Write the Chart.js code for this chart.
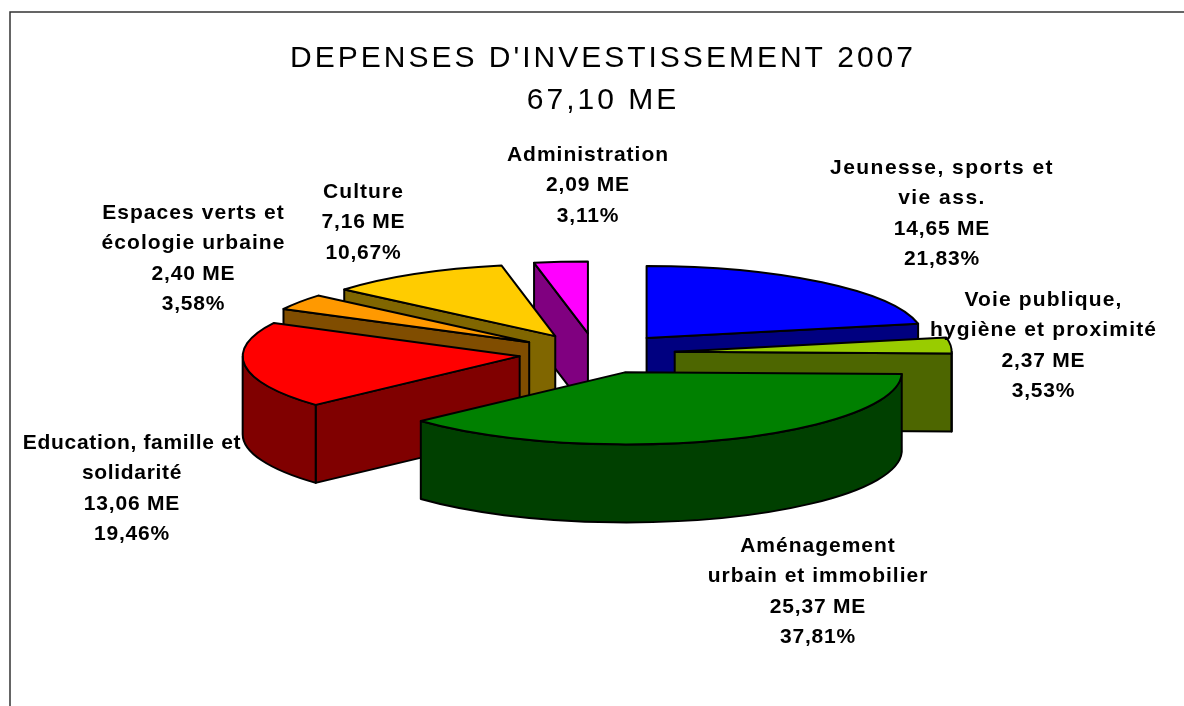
<!DOCTYPE html>
<html>
<head>
<meta charset="utf-8">
<title>Dépenses d'investissement 2007</title>
<script src="https://cdn.jsdelivr.net/npm/chart.js@4"></script>
<style>
  html, body { margin: 0; padding: 0; background: #fff; overflow: hidden; }
  #wrap { position: relative; width: 1184px; height: 706px; }
</style>
</head>
<body>
<div id="wrap"><canvas id="depenses" width="1184" height="706"></canvas></div>
<script>
const titleLines = ["DEPENSES D'INVESTISSEMENT 2007", "67,10 ME"];
const categories = [
  ["Jeunesse, sports et", "vie ass."],
  ["Voie publique,", "hygiène et proximité"],
  ["Aménagement", "urbain et immobilier"],
  ["Education, famille et", "solidarité"],
  ["Espaces verts et", "écologie urbaine"],
  ["Culture"],
  ["Administration"]
];
const amounts = [14.65, 2.37, 25.37, 13.06, 2.40, 7.16, 2.09];
const amountLabels = ["14,65 ME", "2,37 ME", "25,37 ME", "13,06 ME", "2,40 ME", "7,16 ME", "2,09 ME"];
const percentLabels = ["21,83%", "3,53%", "37,81%", "19,46%", "3,58%", "10,67%", "3,11%"];

const topColors = ["#0000ff", "#99cc00", "#008000", "#ff0000", "#ff9900", "#ffcc00", "#ff00ff"];
const sideColors = ["#000080", "#4d6600", "#004000", "#800000", "#804d00", "#806600", "#800080"];

// back slices first, green one last
const paintOrder = [6, 5, 4, 3, 0, 1, 2];
// centre of the first text line of each label
const labelAnchors = [[942, 168], [1043.5, 300], [818, 546], [132, 443], [193.5, 213], [363.5, 192], [588, 155]];
// the original spaces the names unevenly
const nameSpacing = [1.47, 1.15, 1, 0.67, 1.06, 1.07, 1];
// small sideways correction of the exploded slices
const sliceNudge = [0, 0, 0, -1, -4, -3, -2];

const view = { cx: 597.5, cy: 353.5, radius: 277, explode: 77.5, tilt: 0.26, depth: 78 };

function paintSlice(ctx, arc, i) {
  const { cx, cy, radius, explode, tilt, depth } = view;
  const start = arc.startAngle;
  const end = arc.endAngle;
  const mid = (start + end) / 2;
  const ax = cx + explode * Math.cos(mid) + sliceNudge[i];
  const ay = cy + explode * tilt * Math.sin(mid);
  const px = (a) => ax + radius * Math.cos(a);
  const py = (a) => ay + radius * tilt * Math.sin(a);

  ctx.lineWidth = 2;
  ctx.lineJoin = "round";
  ctx.strokeStyle = "#000";
  ctx.fillStyle = sideColors[i];

  const wall = (a) => {
    ctx.beginPath();
    ctx.moveTo(ax, ay);
    ctx.lineTo(px(a), py(a));
    ctx.lineTo(px(a), py(a) + depth);
    ctx.lineTo(ax, ay + depth);
    ctx.closePath();
    ctx.fill();
    ctx.stroke();
  };
  if (Math.cos(start) < 0) wall(start);
  if (Math.cos(end) > 0) wall(end);

  // outer wall, only the part facing the viewer
  const from = Math.max(start, 0);
  const to = Math.min(end, Math.PI);
  if (to > from) {
    ctx.beginPath();
    ctx.ellipse(ax, ay, radius, radius * tilt, 0, from, to);
    ctx.lineTo(px(to), py(to) + depth);
    ctx.ellipse(ax, ay + depth, radius, radius * tilt, 0, to, from, true);
    ctx.closePath();
    ctx.fill();
    ctx.stroke();
  }

  // top face is the library's own arc, squashed into the tilted plane
  ctx.save();
  ctx.translate(ax, ay);
  ctx.scale(1, tilt);
  ctx.translate(-arc.x, -arc.y);
  arc.draw(ctx);
  ctx.restore();

  ctx.beginPath();
  ctx.moveTo(ax, ay);
  ctx.ellipse(ax, ay, radius, radius * tilt, 0, start, end);
  ctx.closePath();
  ctx.stroke();
}

const pie3d = {
  id: "pie3d",
  beforeDraw(chart) {
    const { ctx } = chart;
    ctx.letterSpacing = "3px";
    // frame of the original sheet, only top and left are in view
    ctx.save();
    ctx.strokeStyle = "#333";
    ctx.lineWidth = 1.5;
    ctx.beginPath();
    ctx.moveTo(10, 706);
    ctx.lineTo(10, 12);
    ctx.lineTo(1184, 12);
    ctx.stroke();
    ctx.restore();
  },
  beforeDatasetDraw(chart) {
    const { ctx } = chart;
    const arcs = chart.getDatasetMeta(0).data;
    ctx.save();
    paintOrder.forEach((i) => paintSlice(ctx, arcs[i], i));
    ctx.restore();
    return false;
  },
  afterDraw(chart) {
    const { ctx } = chart;
    ctx.save();
    ctx.font = "bold 21px 'Liberation Sans'";
    ctx.fillStyle = "#000";
    ctx.textAlign = "center";
    ctx.textBaseline = "middle";
    categories.forEach((name, i) => {
      const lines = [...name, amountLabels[i], percentLabels[i]];
      lines.forEach((line, n) => {
        ctx.letterSpacing = (n < name.length ? nameSpacing[i] : 0.8) + "px";
        ctx.fillText(line, labelAnchors[i][0], labelAnchors[i][1] + n * 30.4);
      });
    });
    ctx.restore();
  }
};

new Chart(document.querySelector("#depenses"), {
  type: "pie",
  data: {
    labels: categories.map((c) => c.join(" ")),
    datasets: [
      {
        data: amounts,
        backgroundColor: topColors,
        borderWidth: 0,
        radius: view.radius,
        hoverOffset: 0
      }
    ]
  },
  options: {
    responsive: false,
    animation: false,
    events: [],
    layout: { padding: { left: 22, top: 28 } },
    plugins: {
      legend: { display: false },
      tooltip: { enabled: false },
      title: {
        display: true,
        text: titleLines,
        color: "#000",
        font: { family: "'Liberation Sans'", size: 30, weight: "normal", lineHeight: 1.4 }
      }
    }
  },
  plugins: [pie3d]
});
</script>
</body>
</html>
